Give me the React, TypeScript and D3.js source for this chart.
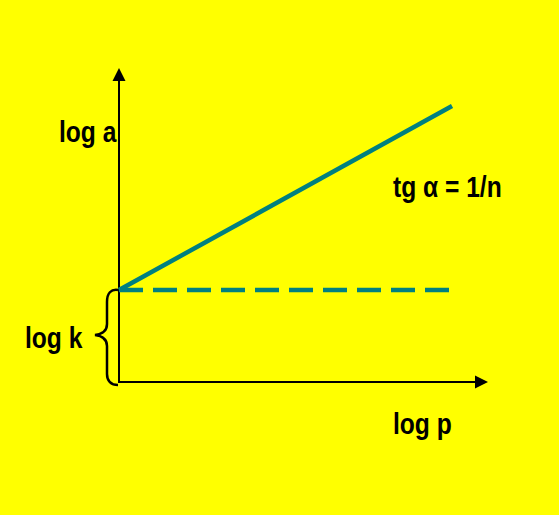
import { FC } from 'react';
import * as d3 from 'd3';

// Freundlich isotherm in log-log form: log a = log k + (1/n) log p
const logP = [0, 10];
const logA = [3, 9];
const logK = [3, 3];

const xMax = 11.08;
const yMax = 10.24;

// label text and where its baseline starts
const labels = [
  { text: 'log a', x: 59, y: 142 },
  { text: 'log k', x: 25, y: 348 },
  { text: 'tg α = 1/n', x: 393, y: 197 },
  { text: 'log p', x: 393, y: 434 }
];

const App: FC = () => {
  const width = 559;
  const height = 515;

  const x = d3.scaleLinear().domain([0, xMax]).range([119, 488]);
  const y = d3.scaleLinear().domain([0, yMax]).range([382, 68]);

  const line = d3.line<[number, number]>()
      .x(d => x(d[0]))
      .y(d => y(d[1]));

  const isotherm = logP.map((p, i) => [p, logA[i]] as [number, number]);
  const kLine = logP.map((p, i) => [p, logK[i]] as [number, number]);

  const x0 = x(0);
  const y0 = y(0);
  const yk = y(logK[0]);
  const xEnd = x(xMax);
  const yEnd = y(yMax);

  // curly brace spanning 0 .. log k on the y axis
  const bx = x0 - 1;
  const braceMid = (yk + y0) / 2 - 2;
  const brace = d3.path();
  brace.moveTo(bx, yk);
  brace.bezierCurveTo(bx - 7, yk - 1, bx - 11, yk + 3, bx - 11, yk + 12);
  brace.lineTo(bx - 11, braceMid - 10);
  brace.bezierCurveTo(bx - 11, braceMid - 3, bx - 15, braceMid, bx - 23, braceMid + 1);
  brace.bezierCurveTo(bx - 15, braceMid + 2, bx - 11, braceMid + 5, bx - 11, braceMid + 12);
  brace.lineTo(bx - 11, y0 - 8);
  brace.bezierCurveTo(bx - 11, y0 - 1, bx - 7, y0 + 3, bx, y0 + 3);

  return (
      <svg
          width={width}
          height={height}
          style={{ position: 'absolute', left: 0, top: 0, display: 'block' }}
      >
        <rect x={0} y={0} width={width} height={height} fill="#FFFF00" />

        {/* axes */}
        <line x1={x0} y1={y0} x2={x0} y2={yEnd + 10} stroke="#000" strokeWidth={2} />
        <path d={`M${x0},${yEnd} L${x0 - 6.5},${yEnd + 13} L${x0 + 6.5},${yEnd + 13} Z`} fill="#000" />
        <line x1={x0 - 1} y1={y0} x2={xEnd - 10} y2={y0} stroke="#000" strokeWidth={2} />
        <path d={`M${xEnd},${y0} L${xEnd - 13},${y0 - 6.5} L${xEnd - 13},${y0 + 6.5} Z`} fill="#000" />

        {/* lines */}
        <path d={line(kLine) ?? ''} fill="none" stroke="#008080" strokeWidth={4.5} strokeDasharray="24,10" />
        <path d={line(isotherm) ?? ''} fill="none" stroke="#008080" strokeWidth={4.5} />

        <path d={brace.toString()} fill="none" stroke="#000" strokeWidth={2.5} />

        {/* labels */}
        {labels.map(l => (
            <text
                key={l.text}
                transform={`translate(${l.x},${l.y}) scale(0.82,1)`}
                fontFamily='"Liberation Sans", Arial, sans-serif'
                fontWeight="bold"
                fontSize={30}
                fill="#000"
            >
              {l.text}
            </text>
        ))}
      </svg>
  );
};

export default App;
